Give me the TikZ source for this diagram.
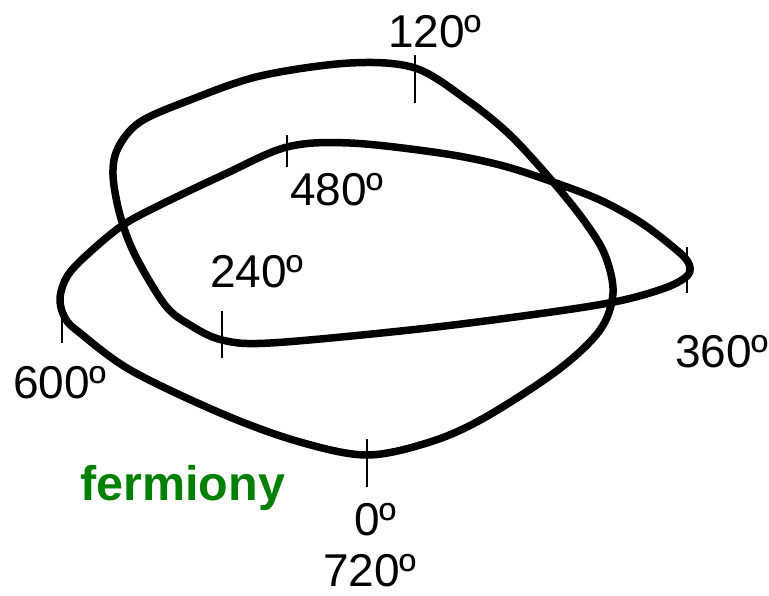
\documentclass[tikz,border=0pt]{standalone}
\usepackage{fontspec}
\setmainfont{Liberation Sans}
\usetikzlibrary{positioning,calc}
\definecolor{fermigreen}{RGB}{0,128,0}

\begin{document}
\begin{tikzpicture}[x=1pt,y=-1pt,
    loop/.style={line width=7.5pt,line join=round},
    tick/.style={line width=1.3pt},
    deg/.style={inner sep=0pt,anchor=base west,font=\fontsize{46}{48}\selectfont}]
  \useasboundingbox (0,0) rectangle (769,595);
  % the path, turned twice round
  \draw[loop] plot[smooth cycle,tension=0.55] coordinates {
    (367,455) (430,442) (484,418) (558,370) (600,330) (613,293) (605,255)
    (585,222) (553,182) (510,135) (467,100) (415,68) (350,63) (260,76)
    (190,100) (140,122) (118,148) (113,175) (120,215) (135,255) (165,305)
    (190,325) (222,340) (270,343) (410,330) (530,315) (614,302) (665,288)
    (688,275) (688,262) (673,247) (640,222) (600,200) (553,182) (500,165)
    (440,153) (350,143) (287,147) (223,175) (160,205) (123,225) (90,252)
    (68,275) (60,298) (65,318) (80,333) (132,371) (225,415) (300,442)};
  \draw[tick] (415,55) -- (415,103);
  \draw[tick] (287,135) -- (287,167);
  \draw[tick] (222,311) -- (222,358);
  \draw[tick] (62,279) -- (62,343);
  \draw[tick] (367,439) -- (367,487);
  \draw[tick] (687,247) -- (687,293);
  \node[deg] (a120) at (388,47) {120º};
  \node[deg] (a480) at (290,205) {480º};
  \node[deg] (a240) at (210,287) {240º};
  \node[deg] (a600) at (13,398) {600º};
  \node[deg] (a360) at (675,367) {360º};
  \node[deg] (a0) at (354,535) {0º};
  \node[deg] (a720) at (323,586) {720º};
  \node[deg,text=fermigreen,font=\fontsize{48.5}{50}\selectfont\bfseries] (ferm) at (80,500) {fermiony};
\end{tikzpicture}
\end{document}
